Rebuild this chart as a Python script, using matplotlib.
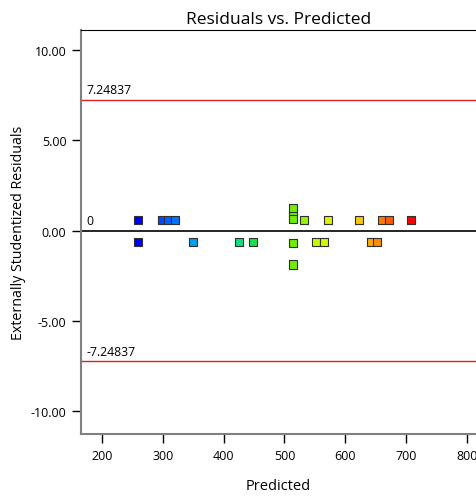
import matplotlib
matplotlib.use("Agg")
import matplotlib.pyplot as plt
from matplotlib.colors import LinearSegmentedColormap
import numpy as np

plt.rcParams['font.family'] = ['Open Sans', 'DejaVu Sans']

predicted = [259, 259, 299, 309, 320, 350, 425, 448, 514, 514, 514, 514, 514,
             532, 552, 565, 572, 623, 642, 652, 660, 672, 708]
residuals = [0.6, -0.65, 0.6, 0.6, 0.6, -0.65, -0.65, -0.65, 1.22, 0.8, 0.62, -0.7, -1.88,
             0.6, -0.65, -0.65, 0.6, 0.6, -0.65, -0.65, 0.6, 0.6, 0.6]
limit = 7.24837
xticks = [200, 300, 400, 500, 600, 700, 800]
yticks = [-10, -5, 0, 5, 10]

fig = plt.figure(figsize=(4.76, 5.02), dpi=100)
ax = fig.add_axes([0.170, 0.1335, 0.83, 0.8045])

cmap = LinearSegmentedColormap.from_list(
    "rb", ["#0000ff", "#0090ff", "#00e0a0", "#30e000", "#d0ff00", "#ffc000", "#ff0000"])
ax.scatter(predicted, residuals, c=predicted, cmap=cmap, vmin=259, vmax=708,
           marker='s', s=34, edgecolors='#303030', linewidths=0.8, zorder=3)

ax.axhline(0, color='black', lw=1.2, zorder=2)
ax.axhline(limit, color='#e02020', lw=1.0, zorder=2)
ax.axhline(-limit, color='#e02020', lw=1.0, zorder=2)

ax.text(174, limit + 0.2, f"{limit:.5f}", fontsize=8.8, va='bottom', ha='left')
ax.text(174, -limit + 0.2, f"{-limit:.5f}", fontsize=8.8, va='bottom', ha='left')
ax.text(175, 0.2, "0", fontsize=8.8, va='bottom', ha='left')

ax.set_xlim(165.5, 815)
ax.set_ylim(-11.27, 11.1)
ax.set_xticks(xticks)
ax.set_xticklabels([str(t) for t in xticks])
ax.set_yticks(yticks)
ax.set_yticklabels([f"{t:.2f}" for t in yticks])
ax.tick_params(axis='both', labelsize=9, length=6.5, width=1, direction='out', pad=4)

ax.spines['right'].set_visible(False)
ax.spines['left'].set_color('#808080')
ax.spines['bottom'].set_color('#808080')
ax.spines['left'].set_linewidth(1.5)
ax.spines['bottom'].set_linewidth(1.5)
ax.spines['top'].set_color('black')

ax.set_title("Residuals vs. Predicted", fontsize=12.5, pad=5)
ax.set_xlabel("Predicted", fontsize=10.5, labelpad=12)
ax.set_ylabel("Externally Studentized Residuals", fontsize=10.3, labelpad=3)

fig.savefig("out.png", dpi=100)
